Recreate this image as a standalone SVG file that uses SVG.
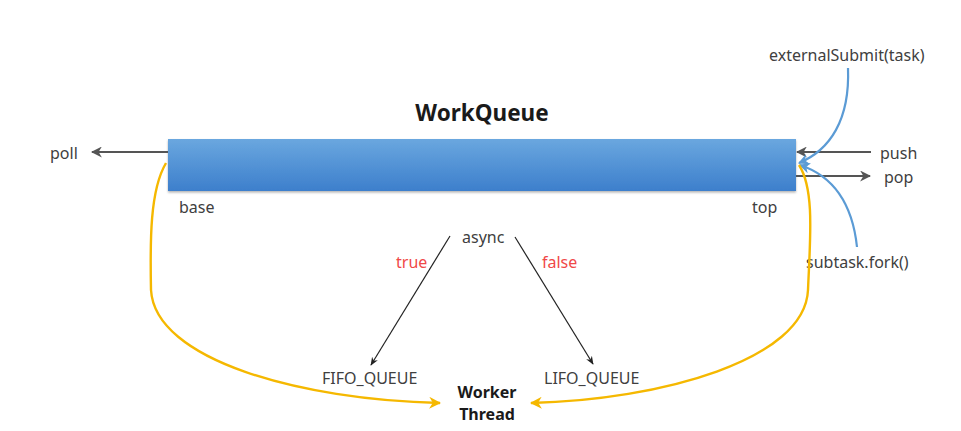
<svg xmlns="http://www.w3.org/2000/svg" width="961" height="431" viewBox="0 0 961 431">
<style>
text{font-family:"Noto Sans","Liberation Sans",sans-serif;font-size:16px;fill:#404040}
.b{font-weight:bold;fill:#1a1a1a}
.r{fill:#f04848}
.g{stroke:#555;stroke-width:2.2;fill:none}
.bl{stroke:#5b9bd5;stroke-width:2.2;fill:none}
.y{stroke:#f5b800;stroke-width:2.4;fill:none}
.k{stroke:#222;stroke-width:1.2;fill:none}
</style>
<defs>
<linearGradient id="gr" x1="0" y1="0" x2="0" y2="1">
<stop offset="0" stop-color="#6aa7df"/>
<stop offset="1" stop-color="#3d7fcc"/>
</linearGradient>
<marker id="ag" viewBox="0 0 10 10" refX="9" refY="5" markerWidth="5" markerHeight="5" orient="auto"><path d="M0,0L10,5L0,10L3,5z" fill="#555"/></marker>
<marker id="ab" viewBox="0 0 10 10" refX="9" refY="5" markerWidth="5" markerHeight="5" orient="auto"><path d="M0,0L10,5L0,10L3,5z" fill="#5b9bd5"/></marker>
<marker id="ay" viewBox="0 0 10 10" refX="9" refY="5" markerWidth="5" markerHeight="5" orient="auto"><path d="M0,0L10,5L0,10L3,5z" fill="#f5b800"/></marker>
<marker id="ak" viewBox="0 0 10 10" refX="9" refY="5" markerWidth="7" markerHeight="7" orient="auto"><path d="M0,1L10,5L0,9L3,5z" fill="#222"/></marker>
<filter id="sh" x="-5%" y="-20%" width="110%" height="150%"><feDropShadow dx="0" dy="1.5" stdDeviation="1" flood-color="#000" flood-opacity="0.3"/></filter>
</defs>
<g id="workqueue">
<rect x="168" y="139" width="628" height="52" fill="url(#gr)" filter="url(#sh)"/>
<text x="482" y="121" text-anchor="middle" class="b" style="font-size:22.5px">WorkQueue</text>
<text x="179" y="213">base</text>
<text x="752" y="213">top</text>
</g>
<g id="labels">
<text x="50" y="159">poll</text>
<text x="880" y="159">push</text>
<text x="884" y="183">pop</text>
<text x="769" y="61">externalSubmit(task)</text>
<text x="806" y="268">subtask.fork()</text>
</g>
<g id="async"><text x="462" y="243">async</text></g>
<g id="fifo"><text x="322" y="384">FIFO_QUEUE</text></g>
<g id="lifo"><text x="544" y="384">LIFO_QUEUE</text></g>
<g id="worker">
<text x="487" y="398" text-anchor="middle" class="b">Worker</text>
<text x="487" y="420" text-anchor="middle" class="b">Thread</text>
</g>
<g id="connectors">
<line x1="168" y1="152" x2="92" y2="152" class="g" marker-end="url(#ag)"/>
<line x1="871" y1="152" x2="797" y2="152" class="g" marker-end="url(#ag)"/>
<line x1="796" y1="176" x2="870" y2="176" class="g" marker-end="url(#ag)"/>
<path d="M848,68 C850,120 830,150 799,163" class="bl" marker-end="url(#ab)"/>
<path d="M857,247 C852,200 830,175 800,165" class="bl" marker-end="url(#ab)"/>
<path d="M166,163 C150,190 150,240 151,290 C155,360 300,400 440,403" class="y" marker-end="url(#ay)"/>
<path d="M799,165 C815,190 810,240 808,290 C805,360 660,400 531,403" class="y" marker-end="url(#ay)"/>
<line x1="450" y1="236" x2="371" y2="365" class="k" marker-end="url(#ak)"/>
<line x1="515" y1="237" x2="593" y2="364" class="k" marker-end="url(#ak)"/>
<text x="396" y="268" class="r">true</text>
<text x="542" y="268" class="r">false</text>
</g>
</svg>
